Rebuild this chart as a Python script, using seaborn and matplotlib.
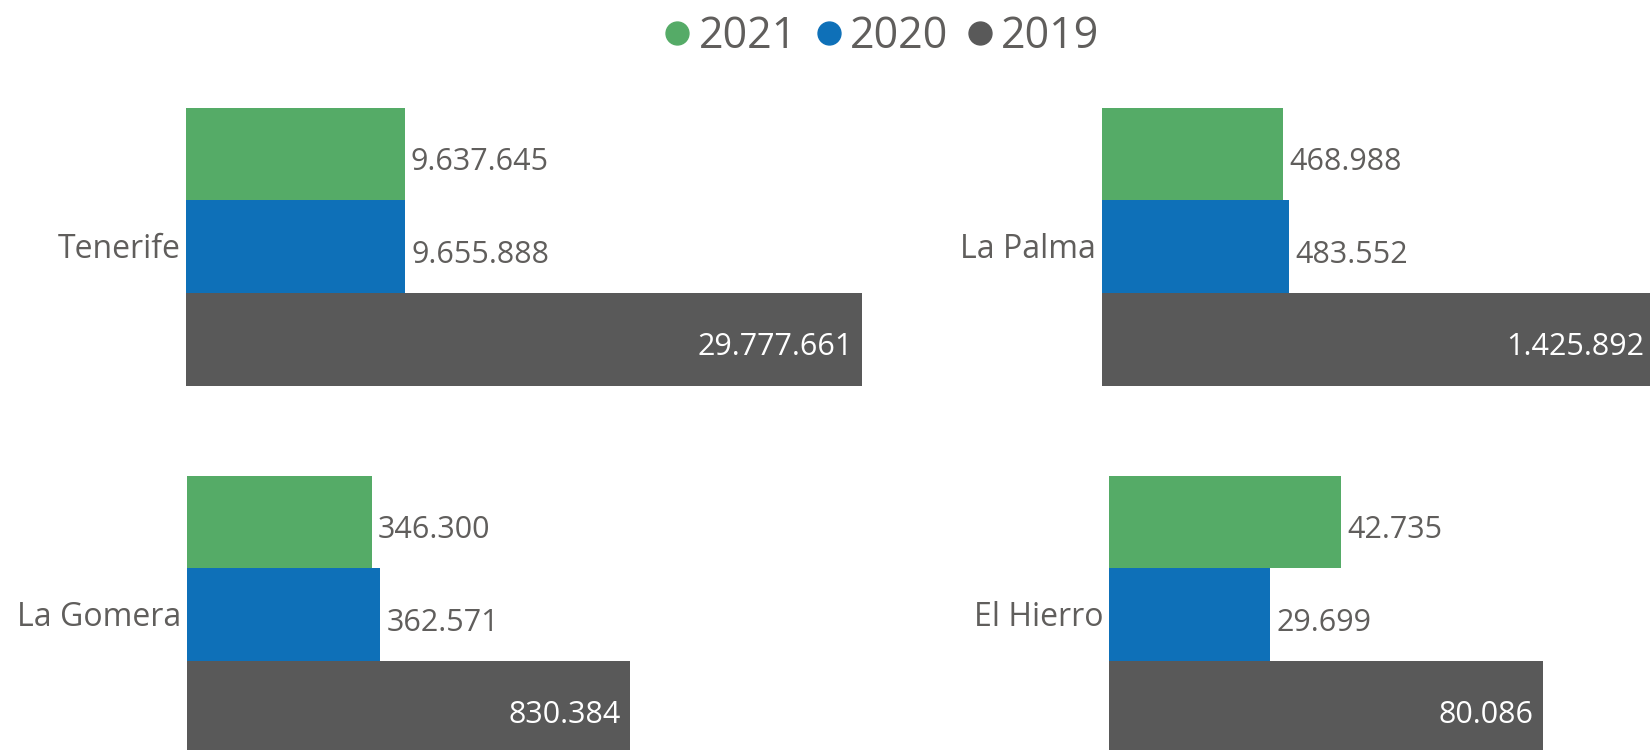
import pandas as pd
import matplotlib.pyplot as plt
from matplotlib.lines import Line2D
import seaborn as sns

# Data
islands = ['Tenerife', 'La Palma', 'La Gomera', 'El Hierro']
years = ['2021', '2020', '2019']
v2021 = [9637645, 468988, 346300, 42735]
v2020 = [9655888, 483552, 362571, 29699]
v2019 = [29777661, 1425892, 830384, 80086]

colors = {'2021': '#55AB67', '2020': '#0E70B8', '2019': '#595959'}
TEXT = '#605E5C'

# Layout of each small multiple, in pixels: left edge of bars, top of bars, length of longest bar
W, H = 1650, 750
BAR_PX = 92.7
panels = {
    'Tenerife': (185.7, 107.7, 676.3),
    'La Palma': (1101.7, 107.7, 551.2),
    'La Gomera': (187.0, 475.5, 442.9),
    'El Hierro': (1109.3, 475.5, 433.7),
}

rows = []
for i, isl in enumerate(islands):
    for yr, vals in zip(years, [v2021, v2020, v2019]):
        rows.append({'island': isl, 'year': yr, 'visitors': vals[i]})
df = pd.DataFrame(rows)


def fmt(v):
    return f"{v:,}".replace(',', '.')


sns.set_style('white')
plt.rcParams['font.family'] = ['Open Sans', 'DejaVu Sans']

fig = plt.figure(figsize=(W / 100, H / 100), dpi=100)

for isl in islands:
    left, top, width = panels[isl]
    ax = fig.add_axes([left / W, 1 - (top + 3 * BAR_PX) / H, width / W, 3 * BAR_PX / H])
    sub = df[df['island'] == isl]
    sns.barplot(data=sub, x='visitors', y='year', hue='year', order=years,
                hue_order=years, palette=colors, orient='h', width=1.0,
                dodge=False, legend=False, linewidth=0, saturation=1, ax=ax)
    ax.set_xlim(0, sub['visitors'].max())
    ax.set_ylim(2.5, -0.5)
    ax.axis('off')

    # value labels
    for j, yr in enumerate(years):
        v = sub.loc[sub['year'] == yr, 'visitors'].iloc[0]
        if yr == '2019':
            ax.annotate(fmt(v), xy=(v, j), xytext=(-6.5, -11.5), textcoords='offset points',
                        ha='right', va='baseline', color='white', fontsize=22)
        else:
            ax.annotate(fmt(v), xy=(v, j), xytext=(4.6, -11.5), textcoords='offset points',
                        ha='left', va='baseline', color=TEXT, fontsize=22)

    # island name next to the middle bar
    ax.annotate(isl, xy=(0, 1), xycoords=('axes fraction', 'data'), xytext=(-4, -8),
                textcoords='offset points', ha='right', va='baseline', color=TEXT,
                fontsize=23, annotation_clip=False)

handles = [Line2D([], [], marker='o', ls='', color=colors[y], markersize=16.5) for y in years]
fig.legend(handles, years, loc='center', bbox_to_anchor=(882 / W, 1 - 37 / H), ncol=3,
           frameon=False, fontsize=31, labelcolor=TEXT, handlelength=0.6,
           handletextpad=0.2, columnspacing=0.43, borderaxespad=0, borderpad=0)

fig.savefig('out.png', dpi=100)
